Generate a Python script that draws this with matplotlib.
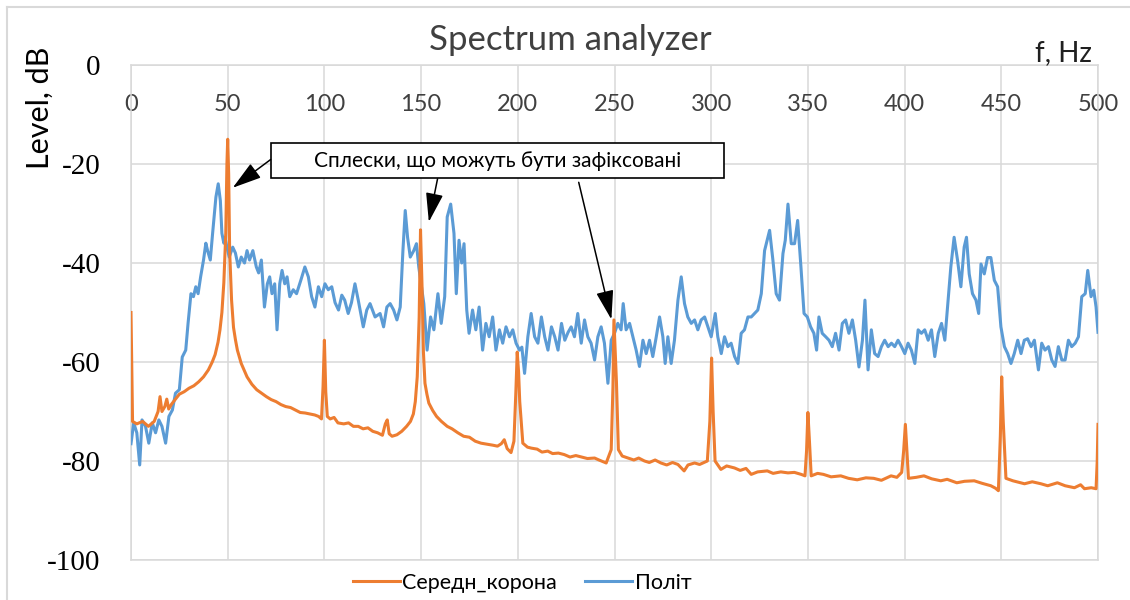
import matplotlib.pyplot as plt
from matplotlib.lines import Line2D
from matplotlib.patches import Rectangle

plt.rcParams['axes.unicode_minus'] = False

# Частоти (Гц) та рівні (дБ) для серії "Середн_корона"
corona_f = [0, 0.8, 3, 6, 9, 12, 14, 15, 16, 17.5, 18.5, 19.5, 21, 23, 25, 27.5, 30, 32.5, 35, 37.5,
            40, 42, 43.5, 45, 46, 47, 48, 49, 49.6, 50, 50.5, 51, 52, 53, 54, 55, 57, 60, 62.5, 65,
            67.5, 70, 72.5, 75, 77.5, 80, 82.5, 85, 87.5, 90, 92.5, 95, 97, 98.5, 99.3, 100, 100.7, 101.5, 103, 105,
            107, 110, 112.5, 115, 117.5, 120, 122.5, 125, 127.5, 130, 131.5, 132.5, 133.5, 135, 137.5, 140, 142.5, 144.5, 146, 147,
            148, 149, 149.7, 150.5, 151.2, 152, 153, 154, 156, 158, 160.5, 163.5, 166, 169, 172, 175, 178, 181, 184, 187,
            189.5, 191.5, 193, 194.5, 196.5, 198, 199, 199.7, 200.4, 201, 202.6, 205, 207, 210, 212.5, 215.5, 218, 221, 224, 227,
            230, 233, 236, 239.7, 242, 245.7, 248.3, 249.2, 249.7, 250.4, 251, 252, 254, 257, 260, 262.5, 265.5, 268, 271, 274,
            277, 280, 282.8, 286, 288, 291.4, 294, 298, 299.3, 300.2, 301, 302, 305, 308, 312, 315, 318, 320.7, 324, 329,
            332, 336, 339.7, 343, 346.5, 348.5, 349.3, 350, 350.8, 351.7, 355, 358, 362, 367, 371, 375.5, 380, 384, 388, 393,
            396, 398.5, 399.5, 400.4, 401.2, 402, 406, 410, 414, 418.7, 422, 427, 431, 436, 440, 444.6, 447, 448.5, 449.5, 450.2,
            451, 452.4, 456, 462, 466, 470.5, 474, 479, 483, 487.8, 491, 493, 496.5, 499, 499.6, 500]
corona_db = [-50, -72, -72.5, -72, -73, -72, -70, -67, -70, -69, -67.5, -69.5, -68.5, -67.5, -66.5, -66, -65.3, -64.8, -64, -63,
             -61.6, -60, -58.5, -56, -53.5, -50, -44, -34, -20, -15, -22, -37.5, -47.5, -53, -55.5, -57.6, -60.3, -63, -64.5, -65.6,
             -66.3, -67, -67.6, -68, -68.6, -69, -69.2, -69.7, -70.2, -70.3, -70.5, -70.7, -71, -71.5, -65, -55.6, -66, -71, -71.5, -71.2,
             -72.3, -72.5, -72.3, -73, -73, -73.5, -73.3, -74, -74.3, -74.8, -72.5, -71.7, -74.5, -75, -74.7, -74, -73, -72, -70.5, -68,
             -63, -51, -33.3, -45, -58, -64.3, -66.5, -68.3, -69.8, -71, -72, -73, -73.5, -74.3, -75, -75.2, -76, -76.4, -76.6, -76.8,
             -77, -76.5, -75.7, -77.5, -78.3, -76, -66, -58, -62, -68, -76.4, -77.2, -77.4, -77.6, -78.2, -78, -78.5, -78.4, -78.7, -79.2,
             -78.9, -79.2, -79.5, -79.4, -79.8, -80.4, -77.7, -65, -51.5, -58, -64, -77.7, -79, -79.4, -79.8, -79.4, -80, -80.3, -79.8, -80.4,
             -80.8, -80.3, -80.7, -82, -80.8, -80.4, -80.7, -80, -72, -59.2, -70, -80, -81.7, -81, -81.4, -81.9, -81.5, -82.7, -82.2, -82,
             -82.5, -82.2, -82.4, -82.3, -82.7, -83, -78, -70.2, -76, -83, -82.5, -82.7, -83.2, -83, -83.5, -83.8, -83.4, -83.5, -83.9, -83,
             -83.3, -82.3, -78, -72.6, -78, -83.5, -83.3, -83, -83.6, -84, -83.7, -84.4, -84.1, -84, -84.5, -85, -85.5, -86, -75, -63,
             -72, -83.5, -84, -84.6, -84.2, -84.6, -85, -84.4, -85, -85.4, -84.8, -85.6, -85.4, -85.6, -80, -72.6]

# Частоти (Гц) та рівні (дБ) для серії "Політ"
polit_f = [0, 1.4, 3, 4.5, 5.7, 7.5, 9.2, 11, 12.7, 14.4, 16, 17.9, 19.6, 21.4, 23, 25, 26.5, 28.3, 29.5, 31,
           32.3, 33.5, 34.7, 36, 37.5, 38.7, 39.6, 41, 42.2, 43.9, 45.1, 46.2, 47, 48, 48.6, 49.6, 50.8, 52.6, 54, 55.5,
           57, 58.7, 60, 61.3, 63, 64.8, 66, 67.4, 69, 70.5, 71.7, 72.9, 74.3, 75.5, 76.9, 78.1, 79.5, 80.7, 82.1, 83.9,
           85.6, 87.8, 89.9, 91.7, 93.4, 95.1, 96.9, 98.6, 100.3, 102, 103.8, 105.5, 107.3, 109, 110.5, 112.3, 114, 115.8, 117.5, 120.1,
           121.9, 123.6, 126.2, 128.8, 130.6, 132.3, 134, 135.8, 137.5, 139.2, 140.6, 141.8, 143, 144.4, 146.2, 147.6, 148.8, 150, 151.4, 153.1,
           154.9, 156.6, 158.7, 160.4, 162.2, 163.5, 165.3, 167, 168.2, 169.6, 171, 172.2, 173.6, 174.8, 176.6, 178.3, 180, 181.8, 183.5, 185.2,
           187, 188.7, 190.5, 192.2, 193.9, 195.7, 197.4, 199.1, 200.9, 202.1, 203.5, 205.2, 206.9, 208.7, 210.4, 212.2, 213.9, 215.6, 217.4, 219.1,
           220.8, 222.6, 224.3, 226, 227.6, 229.3, 231, 232.8, 234.5, 236.2, 237.9, 239.7, 241.4, 243.1, 244.8, 246.6, 248.3, 250, 251.7, 253.4,
           254.5, 256, 257.8, 259.5, 261.2, 262.9, 264.7, 266.4, 268.1, 269.8, 271.6, 273.3, 275, 276.2, 277.6, 279.3, 281, 282.8, 284.5, 286.2,
           287.9, 289.7, 291.4, 293.1, 294.8, 296.6, 298.3, 300, 302.1, 303.4, 305.2, 306.9, 308.6, 310.3, 312.1, 313.8, 315.5, 317.2, 319, 320.7,
           322.4, 324.1, 325.9, 327.6, 330.2, 331.9, 333.6, 335.3, 337.1, 338.3, 339.7, 341.4, 343.1, 344.7, 346.4, 348, 349.7, 351.4, 353.1, 354.5,
           355.7, 357.4, 359.2, 360.9, 362.6, 364.3, 366.1, 367.8, 369.5, 371.2, 373, 374.7, 376.4, 378.2, 379.5, 381.1, 382.8, 384.5, 386.3, 388,
           389.7, 391.5, 393.2, 394.9, 396.6, 398.4, 400.1, 401.8, 403.5, 405.3, 407, 408.7, 410.4, 412.2, 413.9, 415.6, 417.4, 419.1, 420.8, 422.2,
           423.9, 425.6, 427.4, 429.1, 430.8, 432, 433.4, 435.1, 436.9, 438.3, 439.5, 441.2, 442.9, 444.6, 446.4, 448.1, 449.8, 451.6, 453.3, 455,
           456.7, 458.5, 460.2, 461.9, 463.6, 465.4, 467.1, 469.2, 470.9, 472.6, 474.4, 476.1, 477.8, 479.5, 481.3, 483, 484.7, 486.4, 488.2, 489.9,
           491.6, 493.4, 494.7, 496.4, 497.8, 499, 500]
polit_db = [-76.5, -72.3, -74.3, -80.8, -71.7, -73, -76.4, -72.3, -74.3, -71.7, -73, -76.4, -71, -69.7, -66.3, -65.6, -59, -57.6, -52.2, -46.2,
            -46.8, -44.8, -46.2, -42.8, -39.4, -36, -37.5, -39.4, -34, -26.7, -24, -27.4, -34, -36, -34.8, -36.8, -38.8, -36.8, -38, -40.8,
            -38.8, -40, -37.5, -39.4, -37.5, -40.8, -42, -39.4, -48.9, -44.2, -42.8, -46.2, -44.2, -53.5, -44.2, -41.5, -44.2, -42.8, -46.8, -45.4,
            -46.2, -43.5, -40.8, -42.8, -46.8, -48.9, -44.8, -46.8, -44.2, -45.4, -44.8, -48, -49.5, -46.5, -47.5, -50.2, -48, -44.2, -47.5, -52.9,
            -49.5, -48.2, -50.9, -50.2, -52.9, -48.9, -48.2, -49.5, -51.5, -48.9, -37.5, -29.4, -34.8, -38.8, -37.5, -36.1, -40.8, -44.2, -48.2, -57.6,
            -50.9, -53.5, -46.2, -52.2, -46.8, -30.7, -28.1, -34, -46.2, -35.4, -40, -36.1, -49.5, -54.2, -49.5, -53.5, -48.9, -57.6, -52.2, -54.9,
            -50.9, -57.6, -53.5, -56.2, -52.9, -54.9, -53.5, -56.2, -57.6, -57, -62.3, -54.9, -50.2, -54.9, -56.2, -50.9, -54.9, -57.6, -52.9, -54.9,
            -57.6, -52.2, -55.6, -54, -52.9, -54.9, -50.2, -56.2, -51.5, -54.9, -56.2, -59.6, -54.9, -52.9, -56.2, -64.3, -55.6, -54.2, -52.2, -53.5,
            -48.2, -53.5, -52.2, -54.9, -57.6, -60.9, -55.6, -58.3, -55.6, -58.9, -54.9, -50.9, -54.9, -60.3, -54.9, -60.3, -55.6, -47.5, -42.8, -48.2,
            -50.9, -52.2, -51.5, -53.5, -51.5, -50.9, -52.9, -54.9, -50.2, -54.9, -58.3, -54.9, -56.9, -56.2, -58.9, -60.3, -54.2, -53.5, -50.9, -50.9,
            -50.2, -49.5, -46.2, -37.5, -33.4, -39.4, -46.2, -47.5, -38.1, -35.4, -28.1, -36.1, -36.1, -31.4, -40.8, -50.2, -50.9, -52.9, -54.2, -57.6,
            -50.9, -54.2, -54.9, -55.6, -56.9, -54.2, -57.6, -52.2, -51.5, -54.2, -51.5, -55.6, -61, -55.6, -47.5, -61.6, -53.5, -58.3, -58.9, -56.9,
            -55.6, -56.9, -56.2, -56.9, -55.6, -56.9, -58.3, -56.2, -57.6, -60.3, -53.5, -54.2, -53.5, -55.6, -53.5, -58.9, -54.2, -52.2, -55.6, -48.9,
            -40.8, -34.8, -39.5, -44.8, -36.8, -34.8, -42.2, -46.2, -47.5, -50.2, -40.2, -42.2, -38.9, -38.9, -43.5, -44.8, -52.9, -56.9, -58.3, -60.3,
            -58.3, -55.6, -58.3, -55.6, -55.3, -56.9, -55.6, -61.6, -56.2, -57.6, -56.9, -59.6, -60.9, -56.9, -59.6, -59.6, -55.6, -56.9, -56.2, -54.9,
            -46.8, -46.2, -41.5, -46.8, -45.5, -48.9, -54]

x_ticks = [0, 50, 100, 150, 200, 250, 300, 350, 400, 450, 500]
y_ticks = [0, -20, -40, -60, -80, -100]

orange = '#ED7D31'
blue = '#5B9BD5'
grid_col = '#D9D9D9'

fig = plt.figure(figsize=(11.3, 6), dpi=100)
ax = fig.add_axes([131 / 1130, 40 / 600, 967 / 1130, 495 / 600])

ax.plot(polit_f, polit_db, color=blue, lw=2.2, zorder=3)
ax.plot(corona_f, corona_db, color=orange, lw=2.2, zorder=4)

ax.set_xlim(0, 500)
ax.set_ylim(-100, 0)
ax.set_xticks(x_ticks)
ax.set_yticks(y_ticks)
ax.grid(True, color=grid_col, lw=1.1, zorder=0)
for s in ax.spines.values():
    s.set_color(grid_col)
    s.set_linewidth(1.1)

# підписи осі X зверху, всередині області графіка
ax.xaxis.tick_top()
ax.tick_params(axis='x', length=0, pad=-36, labelsize=17, labelcolor='#404040')
for lbl in ax.get_xticklabels():
    lbl.set_family('Lato')
ax.tick_params(axis='y', length=0, pad=22, labelsize=21)
for lbl in ax.get_yticklabels():
    lbl.set_family('Liberation Serif')

fig.text(570 / 1130, 1 - 40 / 600, 'Spectrum analyzer', family='Lato', fontsize=25,
         color='#404040', ha='center', va='center')
fig.text(1092 / 1130, 1 - 53 / 600, 'f, Hz', family='Lato', fontsize=20,
         color='#202020', ha='right', va='center')
fig.text(40 / 1130, 1 - 108 / 600, 'Level, dB', family='Lato', fontsize=22,
         rotation=90, ha='center', va='center')

# виноска з текстом і стрілками на сплески
ax.add_patch(Rectangle((72.2, -22.9), 234.4, 7.2, facecolor='white', edgecolor='black',
                       lw=1.2, zorder=6))
ax.text(189.4, -19.3, 'Сплески, що можуть бути зафіксовані', family='Lato', fontsize=15,
        ha='center', va='center', zorder=7)
arrows = [((72.2, -19.1), (52.6, -24.8)),
          ((158.5, -23.0), (154.0, -31.7)),
          ((231.5, -23.7), (248.4, -51.4))]
for start, tip in arrows:
    ax.annotate('', xy=tip, xytext=start, zorder=7,
                arrowprops=dict(arrowstyle='-|>,head_length=1.0,head_width=0.3',
                                mutation_scale=18, color='black', lw=1.1,
                                shrinkA=0, shrinkB=0))

# легенда
handles = [Line2D([], [], color=orange, lw=2.2), Line2D([], [], color=blue, lw=2.2)]
fig.legend(handles, ['Середн_корона', 'Політ'], loc='center', ncol=2,
           bbox_to_anchor=(522 / 1130, 1 - 583 / 600), frameon=False,
           prop={'family': 'Lato', 'size': 15.5}, handlelength=2.2,
           handletextpad=0.1, columnspacing=1.3)

# рамка області діаграми
fig.add_artist(Line2D([7 / 1130, 7 / 1130], [0, 1 - 7 / 600], color=grid_col, lw=1.5))
fig.add_artist(Line2D([7 / 1130, 1], [1 - 7 / 600, 1 - 7 / 600], color=grid_col, lw=1.5))

fig.savefig('out.png', dpi=100)
